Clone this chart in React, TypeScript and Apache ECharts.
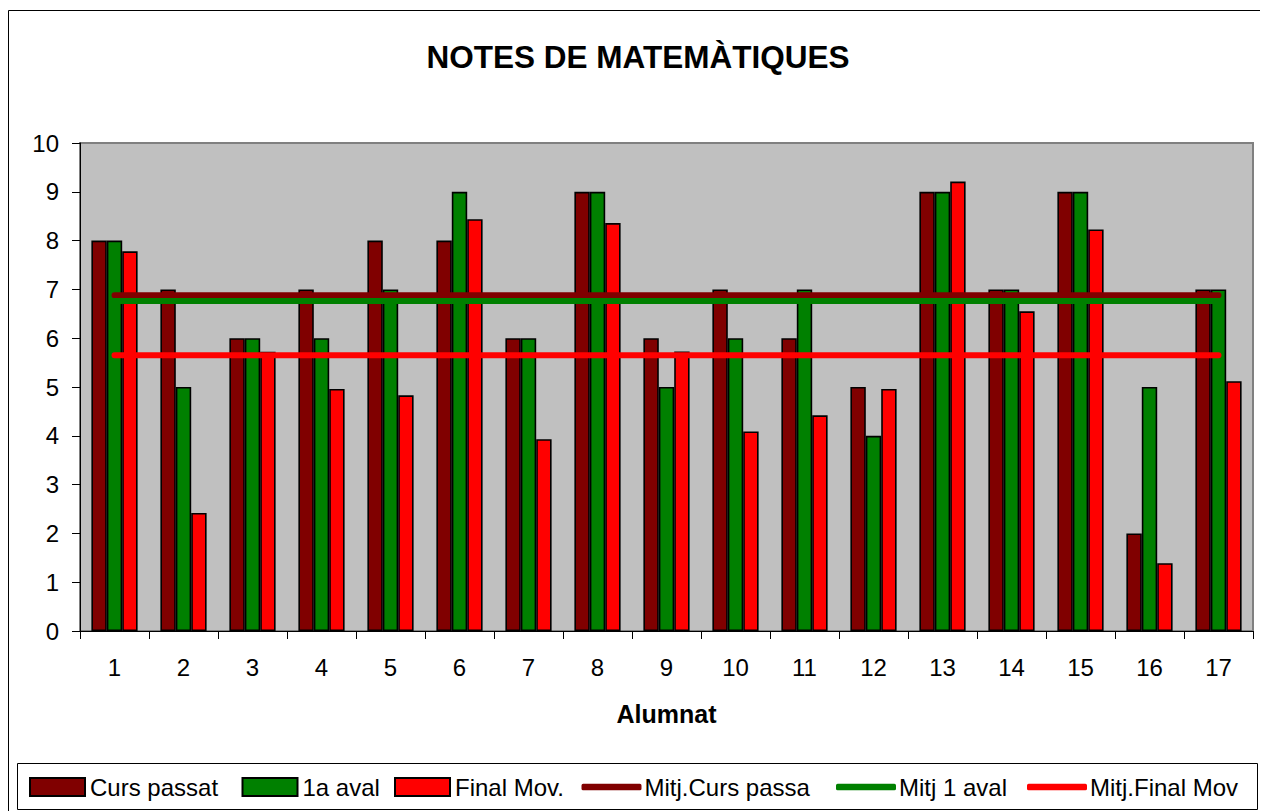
import React, { useEffect, useRef } from "react";
import * as echarts from "echarts";

const categories = ["1", "2", "3", "4", "5", "6", "7", "8", "9", "10", "11", "12", "13", "14", "15", "16", "17"];
const cursPassat = [8, 7, 6, 7, 8, 8, 6, 9, 6, 7, 6, 5, 9, 7, 9, 2, 7];
const primeraAval = [8, 5, 6, 6, 7, 9, 6, 9, 5, 6, 7, 4, 9, 7, 9, 5, 7];
const finalMov = [7.78, 2.42, 5.72, 4.96, 4.83, 8.44, 3.93, 8.36, 5.73, 4.09, 4.42, 4.96, 9.21, 6.55, 8.23, 1.39, 5.12];
const mitjCursPassat = [6.88, 6.88, 6.88, 6.88, 6.88, 6.88, 6.88, 6.88, 6.88, 6.88, 6.88, 6.88, 6.88, 6.88, 6.88, 6.88, 6.88];
const mitjPrimeraAval = [6.76, 6.76, 6.76, 6.76, 6.76, 6.76, 6.76, 6.76, 6.76, 6.76, 6.76, 6.76, 6.76, 6.76, 6.76, 6.76, 6.76];
const mitjFinalMov = [5.65, 5.65, 5.65, 5.65, 5.65, 5.65, 5.65, 5.65, 5.65, 5.65, 5.65, 5.65, 5.65, 5.65, 5.65, 5.65, 5.65];
const yTicks = [0, 10, 1];
const barNames = ["Curs passat", "1a aval", "Final Mov."];
const lineNames = ["Mitj.Curs passa", "Mitj 1 aval", "Mitj.Final Mov"];
const colors = ["#800000", "#008000", "#FF0000"];

const FONT = "Arial, 'Liberation Sans', sans-serif";

export default function App() {
  const ref = useRef<HTMLDivElement>(null);
  useEffect(() => {
    if (!ref.current) return;
    const chart = echarts.init(ref.current, undefined, { renderer: "svg" });
    const barStyle = (color: string) => ({
      color,
      borderColor: "#000000",
      borderWidth: 1.6,
    });
    const lineSeries = (name: string, data: number[], color: string) => ({
      name,
      type: "line",
      data,
      symbol: "none",
      showSymbol: false,
      itemStyle: { color },
      lineStyle: { color, width: 6, cap: "round" },
      z: 5,
    });
    const legendText = (padLeft: number) => ({
      fontFamily: FONT,
      fontSize: 24,
      color: "#000",
      padding: [0, 0, 0, padLeft],
    });
    const barLegendLefts = [21, 233.5, 386];
    const lineLegendLefts = [573.5, 828, 1019];
    const legends = [
      ...barNames.map((n, i) => ({
        data: [n],
        left: barLegendLefts[i],
        top: 767,
        padding: 0,
        icon: "rect",
        itemWidth: 55,
        itemHeight: 18,
        textStyle: legendText(0),
      })),
      ...lineNames.map((n, i) => ({
        data: [n],
        left: lineLegendLefts[i],
        top: 767,
        padding: 0,
        icon: "roundRect",
        itemWidth: 60,
        itemHeight: 6.5,
        itemStyle: { borderWidth: 0 },
        textStyle: legendText(-2),
      })),
    ];
    chart.setOption({
      animation: false,
      textStyle: { fontFamily: FONT },
      title: {
        text: "NOTES DE MATEMÀTIQUES",
        left: "center",
        top: 28,
        textStyle: { fontFamily: FONT, fontSize: 31.5, fontWeight: "bold", color: "#000" },
      },
      graphic: [
        {
          type: "rect",
          shape: { x: 0.5, y: 2.5, width: 1400, height: 1000 },
          style: { fill: "none", stroke: "#000", lineWidth: 1 },
          silent: true,
        },
        {
          type: "rect",
          shape: { x: 9.5, y: 755.5, width: 1240, height: 46 },
          style: { fill: "none", stroke: "#000", lineWidth: 1 },
          silent: true,
        },
      ],
      legend: legends,
      grid: {
        left: 72,
        top: 135,
        width: 1173,
        height: 488,
        show: true,
        backgroundColor: "#C0C0C0",
        borderColor: "#808080",
        borderWidth: 2,
      },
      xAxis: {
        type: "category",
        data: categories,
        name: "Alumnat",
        nameLocation: "middle",
        nameGap: 70,
        nameTextStyle: { fontFamily: FONT, fontSize: 25, fontWeight: "bold", color: "#000" },
        axisLine: { lineStyle: { color: "#000", width: 1 } },
        axisTick: { show: true, inside: false, length: 8, lineStyle: { color: "#000" } },
        axisLabel: { fontFamily: FONT, fontSize: 24, color: "#000", margin: 24 },
        splitLine: { show: false },
      },
      yAxis: {
        type: "value",
        min: yTicks[0],
        max: yTicks[1],
        interval: yTicks[2],
        axisLine: { show: true, lineStyle: { color: "#000", width: 1 } },
        axisTick: { show: true, inside: false, length: 8, lineStyle: { color: "#000" } },
        axisLabel: { fontFamily: FONT, fontSize: 24, color: "#000", margin: 21 },
        splitLine: { show: false },
      },
      series: [
        { name: barNames[0], type: "bar", data: cursPassat, itemStyle: barStyle(colors[0]), barGap: "0%", barCategoryGap: "33%" },
        { name: barNames[1], type: "bar", data: primeraAval, itemStyle: barStyle(colors[1]), barGap: "0%", barCategoryGap: "33%" },
        { name: barNames[2], type: "bar", data: finalMov, itemStyle: barStyle(colors[2]), barGap: "0%", barCategoryGap: "33%" },
        lineSeries(lineNames[0], mitjCursPassat, colors[0]),
        lineSeries(lineNames[1], mitjPrimeraAval, colors[1]),
        lineSeries(lineNames[2], mitjFinalMov, colors[2]),
      ],
    });
    return () => chart.dispose();
  }, []);
  return (
    <div
      ref={ref}
      style={{ width: 1260, height: 803, overflow: "hidden", background: "#fff" }}
    />
  );
}
